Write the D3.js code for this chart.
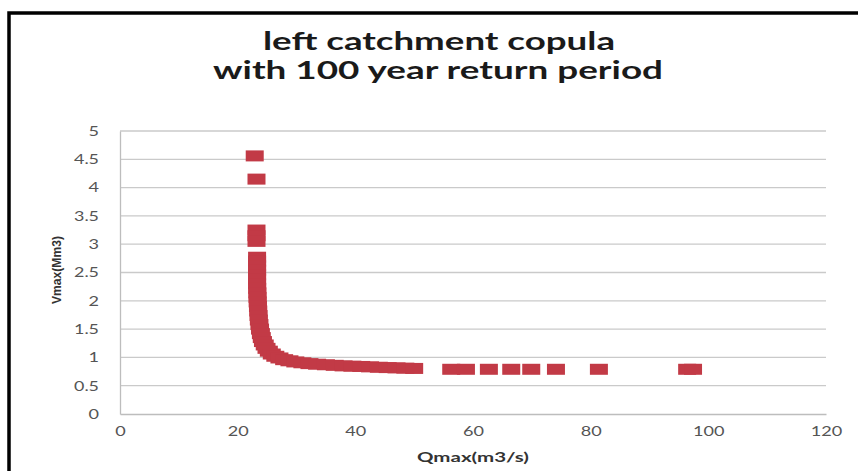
<!DOCTYPE html>
<html><head><meta charset="utf-8">
<script src="https://cdn.jsdelivr.net/npm/d3@7"></script>
<style>body{margin:0;background:#fff}svg{display:block}</style>
</head><body>
<svg id="c" width="858" height="471"></svg>
<script>
const titleLines = ["left catchment copula", "with 100 year return period"];
const xTicks = [0, 20, 40, 60, 80, 100, 120];
const yTicks = [0, 0.5, 1, 1.5, 2, 2.5, 3, 3.5, 4, 4.5, 5];
const xTitle = "Qmax(m3/s)";
const yTitle = "Vmax(Mm3)";
// Qmax values (m3/s) of the copula points
const qValues = [22.9, 23.2, 23.2, 23.2, 23.2,
  23.3, 23.3, 23.3, 23.3, 23.3, 23.3, 23.3, 23.32, 23.35, 23.38, 23.4, 23.45, 23.5, 23.55, 23.6, 23.7, 23.8, 23.95,
  24.1, 24.3, 24.6, 24.9, 25.3, 25.8, 26.4, 27.1, 27.9, 28.8, 29.8, 31, 32.2, 33.5, 35, 36.5, 38, 39.5, 41, 42.5, 44, 45.5, 47, 48.5, 50,
  56.3, 58.8, 62.7, 66.5, 69.9, 74.1, 81.4, 96.4, 97.4];
// Vmax values (Mm3) of the copula points
const vValues = [4.56, 4.15, 3.25, 3.15, 3.05,
  2.77, 2.70, 2.62, 2.54, 2.46, 2.38, 2.30, 2.22, 2.14, 2.06, 1.98, 1.90, 1.82, 1.74, 1.66, 1.58, 1.50, 1.42,
  1.35, 1.28, 1.22, 1.16, 1.11, 1.06, 1.02, 0.99, 0.96, 0.94, 0.92, 0.905, 0.89, 0.88, 0.87, 0.86, 0.85, 0.845, 0.84, 0.833, 0.826, 0.82, 0.815, 0.81, 0.805,
  0.79, 0.79, 0.79, 0.79, 0.79, 0.79, 0.79, 0.79, 0.79];

const svg = d3.select("#c");
svg.append("rect").attr("x", 0).attr("y", 0).attr("width", 858).attr("height", 471).attr("fill", "#fff");
svg.append("rect").attr("x", 9).attr("y", 13).attr("width", 900).attr("height", 500)
  .attr("fill", "none").attr("stroke", "#000").attr("stroke-width", 3.5);

const x = d3.scaleLinear().domain([0, 120]).range([120, 826]);
const y = d3.scaleLinear().domain([0, 5]).range([414, 131]);

// gridlines
svg.append("g").selectAll("line").data(yTicks.filter(d => d > 0)).join("line")
  .attr("x1", x(0)).attr("x2", x(120)).attr("y1", d => y(d)).attr("y2", d => y(d))
  .attr("stroke", "#cacaca").attr("stroke-width", 1.3);

// axes
const labelLen = s => s.replace(/[^0-9]/g, "").length * 10.5 + (s.includes(".") ? 4 : 0);
const ya = svg.append("g").attr("transform", `translate(${x(0)},0)`)
  .call(d3.axisLeft(y).tickValues(yTicks).tickSize(0).tickPadding(21).tickFormat(d => String(d)));
const xa = svg.append("g").attr("transform", `translate(0,${y(0)})`)
  .call(d3.axisBottom(x).tickValues(xTicks).tickSize(0).tickPadding(12).tickFormat(d => String(d)));
[ya, xa].forEach(g => {
  g.select(".domain").attr("stroke", "#bdbdbd").attr("stroke-width", 1.3);
  g.selectAll("text").attr("fill", "#555").attr("font-family", "Lato, sans-serif").attr("font-size", 13.5)
    .attr("textLength", function () { return labelLen(this.textContent); })
    .attr("lengthAdjust", "spacingAndGlyphs");
});

// markers
const pts = qValues.map((q, i) => ({q, v: vValues[i]}));
const mw = 18, mh = 11;
svg.append("g").selectAll("rect").data(pts).join("rect")
  .attr("x", d => x(d.q) - mw / 2).attr("y", d => y(d.v) - mh / 2)
  .attr("width", mw).attr("height", mh)
  .attr("fill", "#c23a46");

// titles
const t = svg.append("g").attr("font-family", "Lato, 'Open Sans', sans-serif").attr("font-weight", "bold")
  .attr("fill", "#1a1a1a").attr("text-anchor", "middle");
t.append("text").attr("x", 439).attr("y", 50).attr("font-size", 25).text(titleLines[0])
  .attr("textLength", 352).attr("lengthAdjust", "spacingAndGlyphs");
t.append("text").attr("x", 438).attr("y", 79).attr("font-size", 25).text(titleLines[1])
  .attr("textLength", 450).attr("lengthAdjust", "spacingAndGlyphs");

svg.append("text").attr("x", 473).attr("y", 462).attr("text-anchor", "middle")
  .attr("font-family", "Lato, sans-serif").attr("font-weight", "bold").attr("font-size", 14)
  .attr("fill", "#333").text(xTitle).attr("textLength", 112).attr("lengthAdjust", "spacingAndGlyphs");
svg.append("text").attr("transform", `translate(61,270) rotate(-90)`).attr("text-anchor", "middle")
  .attr("font-family", "'Liberation Sans Narrow', 'Liberation Sans', sans-serif").attr("font-weight", "bold").attr("font-size", 13)
  .attr("fill", "#333").text(yTitle).attr("textLength", 68).attr("lengthAdjust", "spacingAndGlyphs");
</script>
</body></html>
